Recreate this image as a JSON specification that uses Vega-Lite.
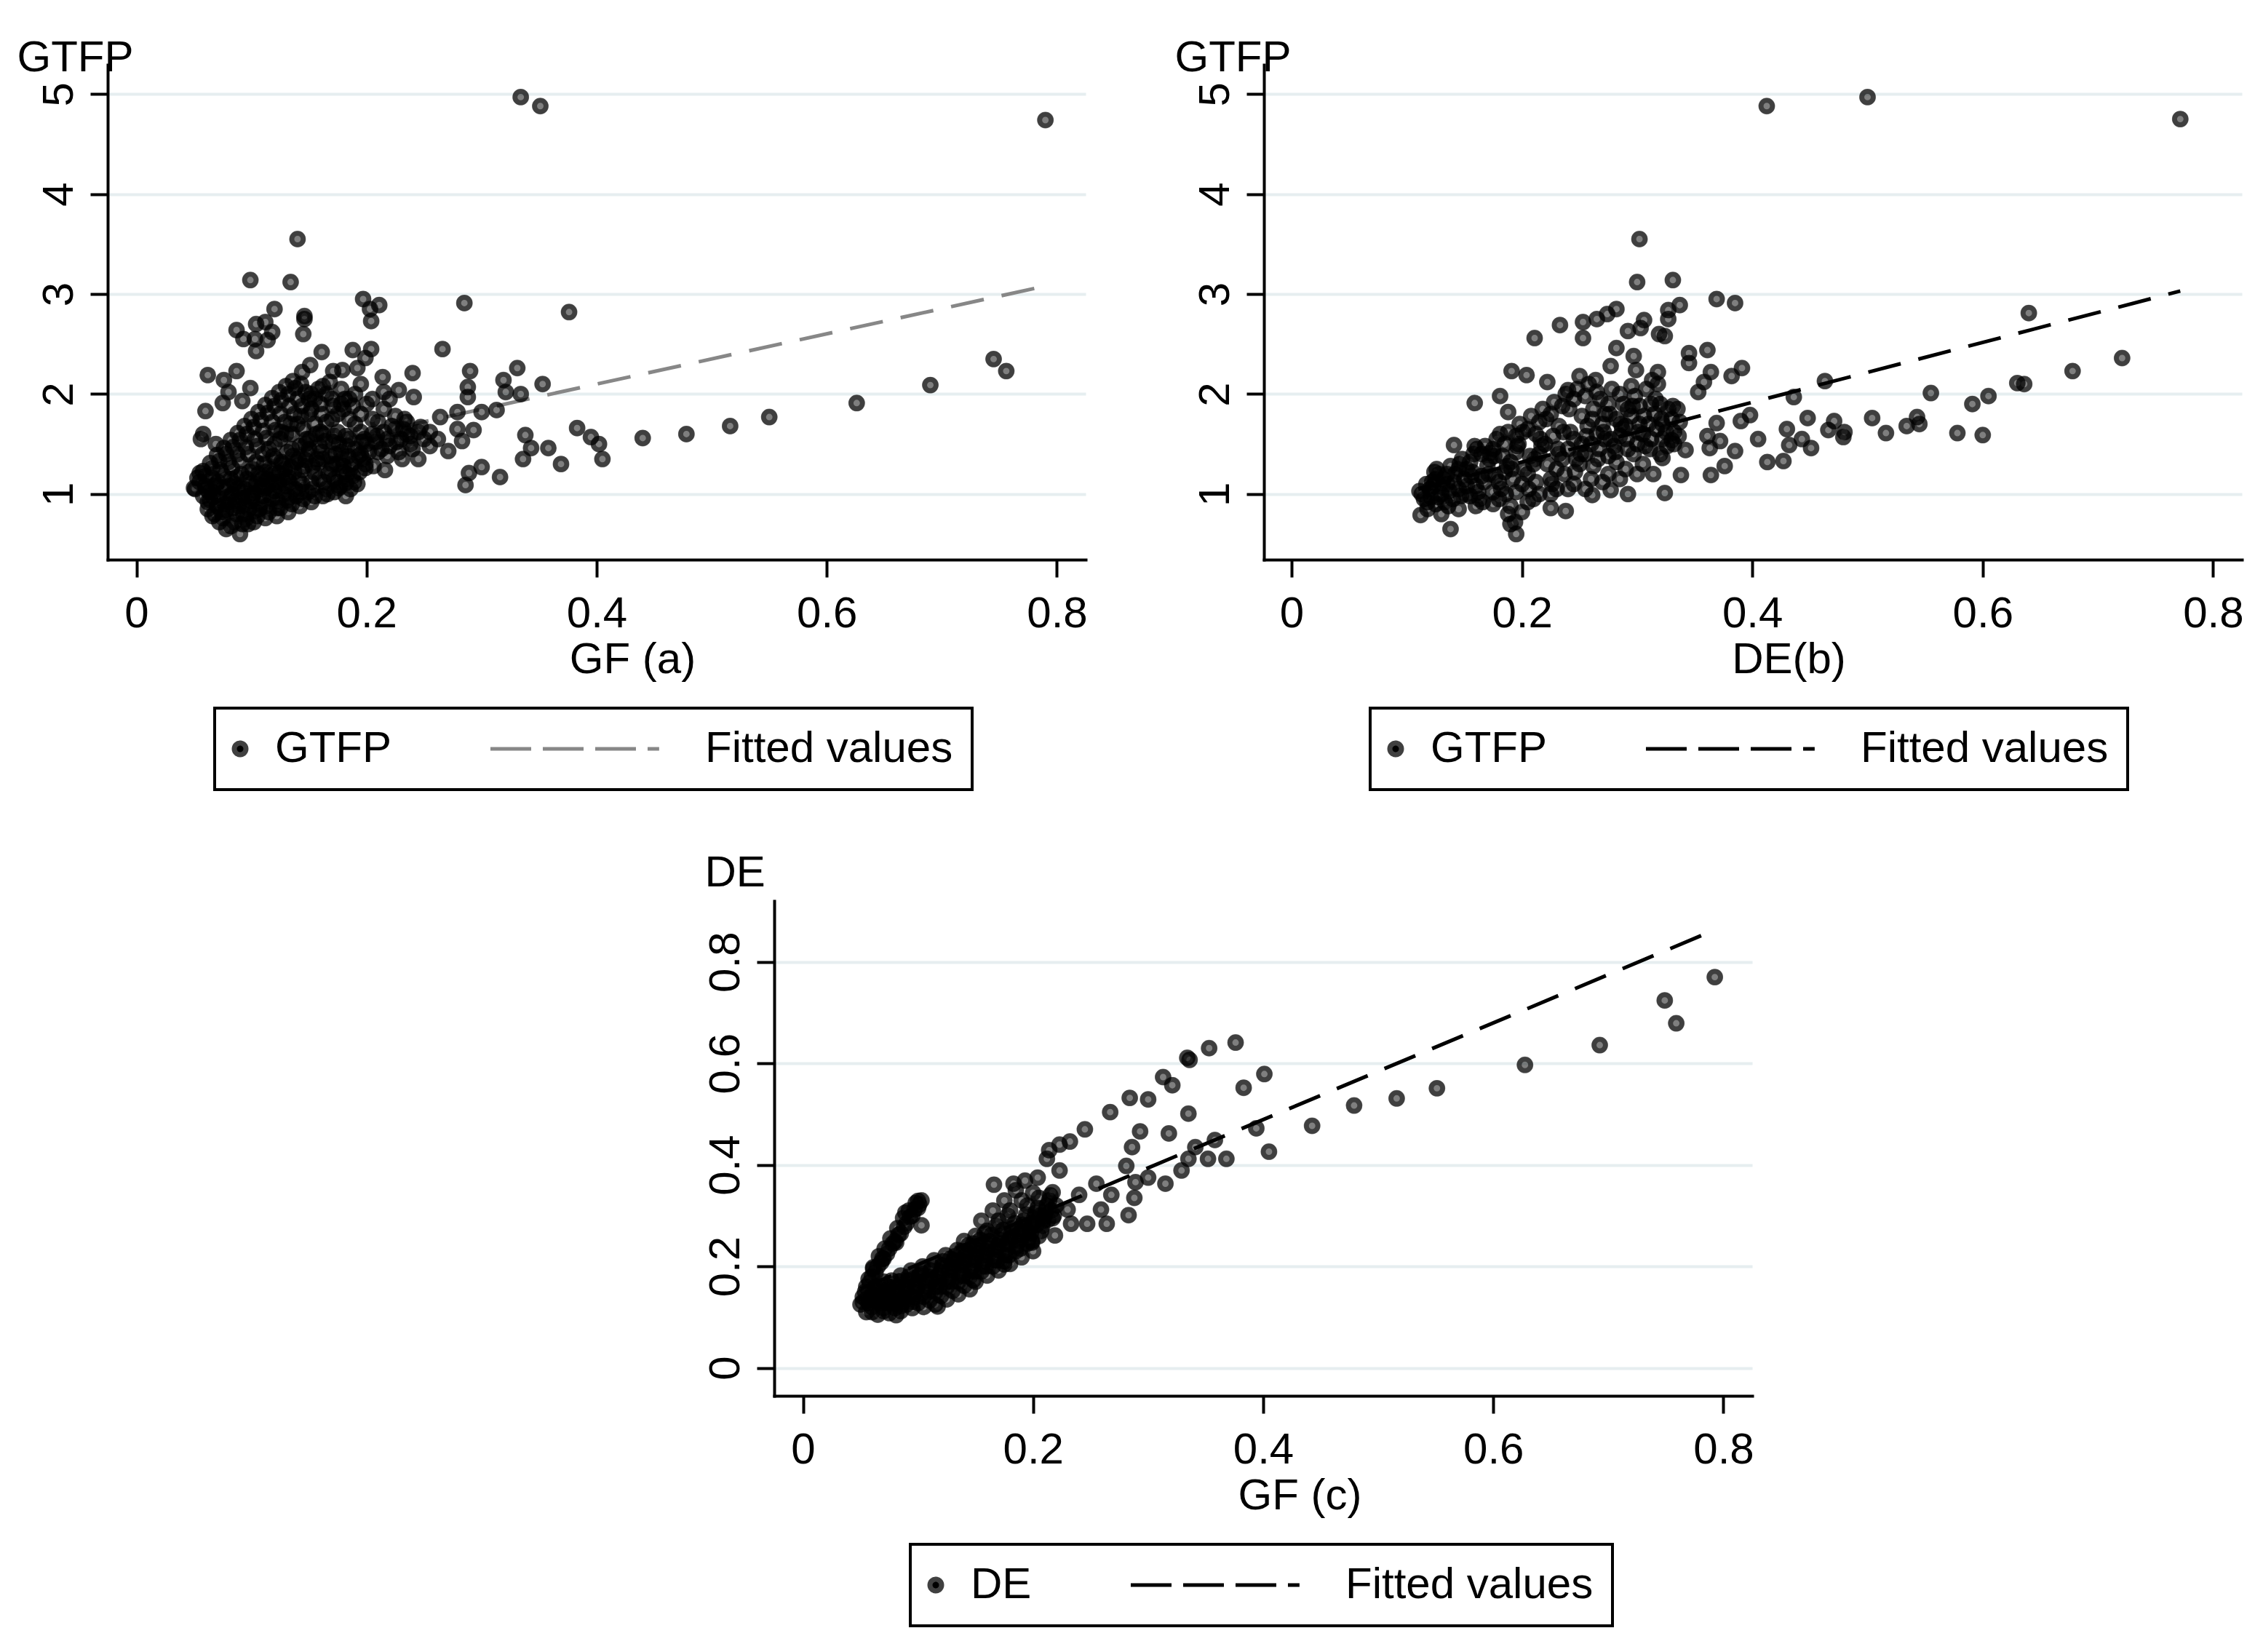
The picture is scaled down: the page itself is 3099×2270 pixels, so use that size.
{
  "$schema": "https://vega.github.io/schema/vega-lite/v6.json",
  "background": "white",
  "padding": {"left": 23, "top": 49, "right": 0, "bottom": 0},
  "config": {
    "font": "Liberation Sans",
    "view": {"stroke": null},
    "axis": {
      "domainColor": "black", "domainWidth": 4, "domainCap": "square",
      "tickColor": "black", "tickWidth": 4, "tickSize": 24,
      "labelFont": "Liberation Sans", "labelFontSize": 60, "labelColor": "black",
      "labelFlush": false, "labelOverlap": false,
      "titleFont": "Liberation Sans", "titleFontSize": 60, "titleFontWeight": "normal", "titleColor": "black",
      "gridColor": "#e6eef0", "gridWidth": 4
    },
    "axisX": {"grid": false, "labelAngle": 0, "labelPadding": 21, "titleAlign": "center", "titleBaseline": "top"},
    "axisY": {"grid": true, "labelAngle": 270, "labelAlign": "center", "labelBaseline": "alphabetic", "labelPadding": 25,
              "titleAngle": 0, "titleAlign": "left", "titleBaseline": "alphabetic"},
    "legend": {
      "title": null, "orient": "none", "direction": "horizontal",
      "padding": 26, "strokeColor": "black", "strokeWidth": 4, "fillColor": "white",
      "labelFont": "Liberation Sans", "labelFontSize": 60, "labelColor": "black", "labelLimit": 2000,
      "labelOffset": 18, "symbolOffset": -21, "columnPadding": 125,
      "symbolSize": 254,
      "symbolType": {"expr": "datum.value === 'Fitted values' ? 'M-31.0,0L-1.9,0' : 'circle'"},
      "symbolStrokeWidth": {"expr": "datum.value === 'Fitted values' ? 5 : 7"},
      "symbolDash": {"expr": "datum.value === 'Fitted values' ? [56, 16] : [1, 0]"}
    }
  },
  "datasets": {
    "a": [
      {"GF":0.334,"GTFP":4.97},{"GF":0.351,"GTFP":4.88},{"GF":0.79,"GTFP":4.74},
      {"GF":0.44,"GTFP":1.56},{"GF":0.478,"GTFP":1.60},{"GF":0.516,"GTFP":1.68},{"GF":0.55,"GTFP":1.77},
      {"GF":0.626,"GTFP":1.91},{"GF":0.69,"GTFP":2.09},{"GF":0.745,"GTFP":2.35},{"GF":0.756,"GTFP":2.23},
      {"GF":0.140,"GTFP":3.55},{"GF":0.099,"GTFP":3.14},{"GF":0.134,"GTFP":3.12},{"GF":0.120,"GTFP":2.85},
      {"GF":0.146,"GTFP":2.78},{"GF":0.146,"GTFP":2.75},{"GF":0.145,"GTFP":2.60},{"GF":0.087,"GTFP":2.64},
      {"GF":0.104,"GTFP":2.70},{"GF":0.112,"GTFP":2.72},{"GF":0.118,"GTFP":2.62},{"GF":0.093,"GTFP":2.55},
      {"GF":0.103,"GTFP":2.55},{"GF":0.114,"GTFP":2.54},{"GF":0.104,"GTFP":2.43},{"GF":0.197,"GTFP":2.95},
      {"GF":0.211,"GTFP":2.89},{"GF":0.203,"GTFP":2.85},{"GF":0.204,"GTFP":2.73},{"GF":0.285,"GTFP":2.91},
      {"GF":0.376,"GTFP":2.82},{"GF":0.161,"GTFP":2.42},{"GF":0.188,"GTFP":2.44},{"GF":0.204,"GTFP":2.45},
      {"GF":0.199,"GTFP":2.36},{"GF":0.266,"GTFP":2.45},{"GF":0.062,"GTFP":2.19},{"GF":0.076,"GTFP":2.14},
      {"GF":0.087,"GTFP":2.23},{"GF":0.099,"GTFP":2.06},{"GF":0.080,"GTFP":2.02},{"GF":0.075,"GTFP":1.91},
      {"GF":0.092,"GTFP":1.93},{"GF":0.060,"GTFP":1.83},{"GF":0.151,"GTFP":2.29},{"GF":0.144,"GTFP":2.22},
      {"GF":0.171,"GTFP":2.23},{"GF":0.179,"GTFP":2.24},{"GF":0.192,"GTFP":2.26},{"GF":0.240,"GTFP":2.21},
      {"GF":0.214,"GTFP":2.17},{"GF":0.228,"GTFP":2.04},{"GF":0.241,"GTFP":1.97},{"GF":0.290,"GTFP":2.23},
      {"GF":0.288,"GTFP":2.07},{"GF":0.288,"GTFP":1.97},{"GF":0.319,"GTFP":2.14},{"GF":0.331,"GTFP":2.26},
      {"GF":0.353,"GTFP":2.10},{"GF":0.334,"GTFP":2.00},{"GF":0.321,"GTFP":2.02},{"GF":0.264,"GTFP":1.77},
      {"GF":0.279,"GTFP":1.82},{"GF":0.300,"GTFP":1.82},{"GF":0.313,"GTFP":1.84},{"GF":0.279,"GTFP":1.65},
      {"GF":0.293,"GTFP":1.64},{"GF":0.283,"GTFP":1.53},{"GF":0.271,"GTFP":1.43},{"GF":0.255,"GTFP":1.48},
      {"GF":0.247,"GTFP":1.67},{"GF":0.233,"GTFP":1.75},{"GF":0.338,"GTFP":1.59},{"GF":0.343,"GTFP":1.46},
      {"GF":0.358,"GTFP":1.46},{"GF":0.336,"GTFP":1.35},{"GF":0.369,"GTFP":1.30},{"GF":0.383,"GTFP":1.66},
      {"GF":0.395,"GTFP":1.57},{"GF":0.402,"GTFP":1.50},{"GF":0.405,"GTFP":1.35},{"GF":0.289,"GTFP":1.21},
      {"GF":0.300,"GTFP":1.27},{"GF":0.316,"GTFP":1.17},{"GF":0.286,"GTFP":1.09},{"GF":0.231,"GTFP":1.35},
      {"GF":0.216,"GTFP":1.24},{"GF":0.199,"GTFP":1.26},{"GF":0.176,"GTFP":1.06},{"GF":0.182,"GTFP":1.11},
      {"GF":0.058,"GTFP":1.60},{"GF":0.056,"GTFP":1.55},{"GF":0.069,"GTFP":1.50},{"GF":0.051,"GTFP":1.05},
      {"GF":0.055,"GTFP":1.21},{"GF":0.078,"GTFP":0.65},{"GF":0.090,"GTFP":0.60},{"GF":0.066,"GTFP":0.78},
      {"GF":0.097,"GTFP":0.70},
      {"GF":0.050,"GTFP":1.06},{"GF":0.055,"GTFP":1.12},{"GF":0.060,"GTFP":1.18},{"GF":0.066,"GTFP":1.26},
      {"GF":0.072,"GTFP":1.33},{"GF":0.078,"GTFP":1.40},{"GF":0.084,"GTFP":1.47},{"GF":0.090,"GTFP":1.54},
      {"GF":0.096,"GTFP":1.60},{"GF":0.102,"GTFP":1.67},{"GF":0.108,"GTFP":1.74},{"GF":0.114,"GTFP":1.81},
      {"GF":0.120,"GTFP":1.88},{"GF":0.126,"GTFP":1.94},{"GF":0.132,"GTFP":2.00},{"GF":0.138,"GTFP":2.06},
      {"GF":0.143,"GTFP":2.10},{"GF":0.147,"GTFP":2.02},{"GF":0.140,"GTFP":1.95},{"GF":0.133,"GTFP":1.88},
      {"GF":0.125,"GTFP":1.80},{"GF":0.118,"GTFP":1.72},{"GF":0.110,"GTFP":1.63},{"GF":0.103,"GTFP":1.55},
      {"GF":0.095,"GTFP":1.47},{"GF":0.088,"GTFP":1.40},{"GF":0.080,"GTFP":1.32},{"GF":0.073,"GTFP":1.24},
      {"GF":0.066,"GTFP":1.16},{"GF":0.060,"GTFP":1.08},
      {"GF":0.053,"GTFP":1.16},{"GF":0.058,"GTFP":1.23},{"GF":0.064,"GTFP":1.31},{"GF":0.070,"GTFP":1.39},
      {"GF":0.076,"GTFP":1.46},{"GF":0.082,"GTFP":1.54},{"GF":0.088,"GTFP":1.61},{"GF":0.094,"GTFP":1.68},
      {"GF":0.100,"GTFP":1.75},{"GF":0.106,"GTFP":1.82},{"GF":0.112,"GTFP":1.89},{"GF":0.118,"GTFP":1.96},
      {"GF":0.124,"GTFP":2.02},{"GF":0.130,"GTFP":2.08},{"GF":0.136,"GTFP":2.13},
      {"GF":0.063,"GTFP":1.02},{"GF":0.069,"GTFP":1.10},{"GF":0.076,"GTFP":1.18},{"GF":0.083,"GTFP":1.26},
      {"GF":0.090,"GTFP":1.33},{"GF":0.097,"GTFP":1.40},{"GF":0.105,"GTFP":1.48},{"GF":0.113,"GTFP":1.56},
      {"GF":0.121,"GTFP":1.64},{"GF":0.129,"GTFP":1.72},{"GF":0.137,"GTFP":1.80},{"GF":0.144,"GTFP":1.88},
      {"GF":0.150,"GTFP":1.95},
      {"GF":0.058,"GTFP":0.98},{"GF":0.062,"GTFP":0.92},{"GF":0.066,"GTFP":1.02},{"GF":0.070,"GTFP":0.88},
      {"GF":0.072,"GTFP":0.96},{"GF":0.076,"GTFP":1.06},{"GF":0.078,"GTFP":0.84},{"GF":0.080,"GTFP":0.92},
      {"GF":0.083,"GTFP":1.00},{"GF":0.085,"GTFP":1.10},{"GF":0.087,"GTFP":0.80},{"GF":0.089,"GTFP":0.88},
      {"GF":0.092,"GTFP":0.96},{"GF":0.094,"GTFP":1.05},{"GF":0.096,"GTFP":1.15},{"GF":0.098,"GTFP":0.85},
      {"GF":0.100,"GTFP":0.93},{"GF":0.102,"GTFP":1.01},{"GF":0.104,"GTFP":1.10},{"GF":0.106,"GTFP":1.20},
      {"GF":0.108,"GTFP":0.90},{"GF":0.110,"GTFP":0.98},{"GF":0.112,"GTFP":1.06},{"GF":0.114,"GTFP":1.15},
      {"GF":0.116,"GTFP":1.25},{"GF":0.118,"GTFP":0.95},{"GF":0.120,"GTFP":1.03},{"GF":0.122,"GTFP":1.12},
      {"GF":0.124,"GTFP":1.21},{"GF":0.126,"GTFP":1.32},{"GF":0.128,"GTFP":1.00},{"GF":0.130,"GTFP":1.08},
      {"GF":0.132,"GTFP":1.17},{"GF":0.134,"GTFP":1.27},{"GF":0.136,"GTFP":1.38},{"GF":0.138,"GTFP":1.05},
      {"GF":0.141,"GTFP":1.14},{"GF":0.144,"GTFP":1.24},{"GF":0.147,"GTFP":1.34},{"GF":0.150,"GTFP":1.45},
      {"GF":0.152,"GTFP":1.12},{"GF":0.155,"GTFP":1.21},{"GF":0.158,"GTFP":1.31},{"GF":0.161,"GTFP":1.42},
      {"GF":0.164,"GTFP":1.53},{"GF":0.167,"GTFP":1.20},{"GF":0.170,"GTFP":1.30},{"GF":0.173,"GTFP":1.40},
      {"GF":0.176,"GTFP":1.50},{"GF":0.180,"GTFP":1.28},{"GF":0.184,"GTFP":1.38},{"GF":0.188,"GTFP":1.18},
      {"GF":0.192,"GTFP":1.10},{"GF":0.175,"GTFP":1.12},{"GF":0.165,"GTFP":1.05},{"GF":0.155,"GTFP":0.98},
      {"GF":0.145,"GTFP":0.95},{"GF":0.135,"GTFP":0.90},{"GF":0.125,"GTFP":0.86},{"GF":0.115,"GTFP":0.82},
      {"GF":0.105,"GTFP":0.78},{"GF":0.095,"GTFP":0.75},{"GF":0.085,"GTFP":0.72},{"GF":0.075,"GTFP":0.76},
      {"GF":0.068,"GTFP":0.80},{"GF":0.062,"GTFP":0.85},
      {"GF":0.061,"GTFP":1.05},{"GF":0.067,"GTFP":0.97},{"GF":0.071,"GTFP":1.12},{"GF":0.074,"GTFP":0.82},
      {"GF":0.079,"GTFP":0.97},{"GF":0.082,"GTFP":1.15},{"GF":0.086,"GTFP":0.93},{"GF":0.088,"GTFP":1.05},
      {"GF":0.091,"GTFP":1.20},{"GF":0.093,"GTFP":0.80},{"GF":0.097,"GTFP":0.98},{"GF":0.099,"GTFP":1.10},
      {"GF":0.101,"GTFP":1.25},{"GF":0.103,"GTFP":0.83},{"GF":0.107,"GTFP":1.05},{"GF":0.109,"GTFP":1.15},
      {"GF":0.111,"GTFP":1.30},{"GF":0.113,"GTFP":0.88},{"GF":0.117,"GTFP":1.10},{"GF":0.119,"GTFP":1.20},
      {"GF":0.121,"GTFP":1.35},{"GF":0.123,"GTFP":0.93},{"GF":0.127,"GTFP":1.15},{"GF":0.129,"GTFP":1.25},
      {"GF":0.131,"GTFP":1.42},{"GF":0.133,"GTFP":0.97},{"GF":0.137,"GTFP":1.22},{"GF":0.139,"GTFP":1.32},
      {"GF":0.142,"GTFP":1.48},{"GF":0.143,"GTFP":1.02},{"GF":0.146,"GTFP":1.28},{"GF":0.149,"GTFP":1.40},
      {"GF":0.151,"GTFP":1.55},{"GF":0.153,"GTFP":1.05},{"GF":0.157,"GTFP":1.35},{"GF":0.159,"GTFP":1.48},
      {"GF":0.162,"GTFP":1.60},{"GF":0.163,"GTFP":1.12},{"GF":0.168,"GTFP":1.38},{"GF":0.171,"GTFP":1.52},
      {"GF":0.174,"GTFP":1.30},{"GF":0.178,"GTFP":1.42},{"GF":0.182,"GTFP":1.58},{"GF":0.183,"GTFP":1.20},
      {"GF":0.187,"GTFP":1.30},{"GF":0.190,"GTFP":1.45},{"GF":0.194,"GTFP":1.22},{"GF":0.197,"GTFP":1.35},
      {"GF":0.092,"GTFP":0.70},{"GF":0.102,"GTFP":0.72},{"GF":0.112,"GTFP":0.76},{"GF":0.122,"GTFP":0.78},
      {"GF":0.082,"GTFP":0.68},{"GF":0.072,"GTFP":0.72},{"GF":0.132,"GTFP":0.82},{"GF":0.142,"GTFP":0.88},
      {"GF":0.152,"GTFP":0.92},{"GF":0.162,"GTFP":0.98},{"GF":0.172,"GTFP":1.02},{"GF":0.182,"GTFP":0.98},
      {"GF":0.110,"GTFP":1.40},{"GF":0.115,"GTFP":1.45},{"GF":0.120,"GTFP":1.50},{"GF":0.125,"GTFP":1.55},
      {"GF":0.135,"GTFP":1.60},{"GF":0.145,"GTFP":1.65},{"GF":0.155,"GTFP":1.70},{"GF":0.165,"GTFP":1.72},
      {"GF":0.064,"GTFP":0.94},{"GF":0.069,"GTFP":1.08},{"GF":0.077,"GTFP":0.90},{"GF":0.081,"GTFP":1.08},
      {"GF":0.084,"GTFP":0.86},{"GF":0.087,"GTFP":1.17},{"GF":0.091,"GTFP":1.02},{"GF":0.094,"GTFP":0.89},
      {"GF":0.098,"GTFP":1.22},{"GF":0.101,"GTFP":0.97},{"GF":0.104,"GTFP":1.32},{"GF":0.107,"GTFP":0.85},
      {"GF":0.109,"GTFP":1.08},{"GF":0.112,"GTFP":1.22},{"GF":0.116,"GTFP":0.99},{"GF":0.119,"GTFP":1.38},
      {"GF":0.122,"GTFP":0.86},{"GF":0.124,"GTFP":1.08},{"GF":0.127,"GTFP":1.30},{"GF":0.131,"GTFP":0.94},
      {"GF":0.133,"GTFP":1.12},{"GF":0.135,"GTFP":1.45},{"GF":0.139,"GTFP":0.98},{"GF":0.141,"GTFP":1.35},
      {"GF":0.144,"GTFP":1.10},{"GF":0.147,"GTFP":1.50},{"GF":0.149,"GTFP":1.02},{"GF":0.153,"GTFP":1.28},
      {"GF":0.156,"GTFP":1.60},{"GF":0.159,"GTFP":1.15},{"GF":0.162,"GTFP":1.35},{"GF":0.166,"GTFP":1.00},
      {"GF":0.169,"GTFP":1.25},{"GF":0.172,"GTFP":1.58},{"GF":0.177,"GTFP":1.08},{"GF":0.179,"GTFP":1.35},
      {"GF":0.183,"GTFP":1.48},{"GF":0.186,"GTFP":1.25},{"GF":0.189,"GTFP":1.12},{"GF":0.193,"GTFP":1.38},
      {"GF":0.196,"GTFP":1.52},{"GF":0.199,"GTFP":1.30},{"GF":0.202,"GTFP":1.42},{"GF":0.206,"GTFP":1.28},
      {"GF":0.209,"GTFP":1.58},{"GF":0.213,"GTFP":1.45},{"GF":0.218,"GTFP":1.55},{"GF":0.222,"GTFP":1.68},
      {"GF":0.226,"GTFP":1.52},{"GF":0.232,"GTFP":1.65},{"GF":0.238,"GTFP":1.58},{"GF":0.126,"GTFP":1.62},
      {"GF":0.134,"GTFP":1.70},{"GF":0.143,"GTFP":1.78},{"GF":0.152,"GTFP":1.85},{"GF":0.161,"GTFP":1.80},
      {"GF":0.171,"GTFP":1.88},{"GF":0.181,"GTFP":1.95},{"GF":0.152,"GTFP":2.00},{"GF":0.162,"GTFP":2.08},
      {"GF":0.130,"GTFP":1.60},{"GF":0.140,"GTFP":1.70},{"GF":0.150,"GTFP":1.80},{"GF":0.160,"GTFP":1.90},
      {"GF":0.165,"GTFP":2.00},{"GF":0.155,"GTFP":1.95},{"GF":0.170,"GTFP":1.75},{"GF":0.180,"GTFP":1.85},
      {"GF":0.185,"GTFP":1.95},{"GF":0.175,"GTFP":1.62},{"GF":0.190,"GTFP":1.70},{"GF":0.195,"GTFP":1.80},
      {"GF":0.200,"GTFP":1.90},{"GF":0.205,"GTFP":1.60},{"GF":0.210,"GTFP":1.72},{"GF":0.215,"GTFP":1.85},
      {"GF":0.220,"GTFP":1.95},{"GF":0.225,"GTFP":1.65},{"GF":0.230,"GTFP":1.55},{"GF":0.200,"GTFP":1.50},
      {"GF":0.210,"GTFP":1.42},{"GF":0.220,"GTFP":1.48},{"GF":0.235,"GTFP":1.60},{"GF":0.240,"GTFP":1.45},
      {"GF":0.195,"GTFP":1.40},{"GF":0.185,"GTFP":1.55},{"GF":0.170,"GTFP":1.95},{"GF":0.160,"GTFP":1.62},
      {"GF":0.148,"GTFP":1.55},{"GF":0.158,"GTFP":2.05},{"GF":0.168,"GTFP":2.12},{"GF":0.178,"GTFP":2.05},
      {"GF":0.190,"GTFP":2.00},{"GF":0.245,"GTFP":1.35},{"GF":0.250,"GTFP":1.55},{"GF":0.172,"GTFP":1.15},
      {"GF":0.180,"GTFP":1.22},{"GF":0.186,"GTFP":1.05},
      {"GF":0.175,"GTFP":1.80},{"GF":0.185,"GTFP":1.75},{"GF":0.195,"GTFP":1.62},{"GF":0.205,"GTFP":1.75},
      {"GF":0.215,"GTFP":1.62},{"GF":0.225,"GTFP":1.78},{"GF":0.235,"GTFP":1.72},{"GF":0.205,"GTFP":1.95},
      {"GF":0.215,"GTFP":2.02},{"GF":0.195,"GTFP":2.10},{"GF":0.178,"GTFP":1.90},{"GF":0.188,"GTFP":1.88},
      {"GF":0.198,"GTFP":1.55},{"GF":0.208,"GTFP":1.52},{"GF":0.228,"GTFP":1.42},{"GF":0.238,"GTFP":1.50},
      {"GF":0.218,"GTFP":1.38},{"GF":0.245,"GTFP":1.62},{"GF":0.255,"GTFP":1.62},{"GF":0.262,"GTFP":1.55}
    ],
    "afit": [{"GF":0.05,"fit":1.22},{"GF":0.79,"fit":3.08}],
    "b": [
      {"DE":0.4125,"GTFP":4.88},{"DE":0.50,"GTFP":4.97},{"DE":0.7715,"GTFP":4.75},
      {"DE":0.64,"GTFP":2.81},{"DE":0.721,"GTFP":2.36},{"DE":0.678,"GTFP":2.23},{"DE":0.63,"GTFP":2.11},
      {"DE":0.636,"GTFP":2.10},{"DE":0.605,"GTFP":1.98},{"DE":0.591,"GTFP":1.90},{"DE":0.555,"GTFP":2.01},
      {"DE":0.578,"GTFP":1.61},{"DE":0.60,"GTFP":1.59},{"DE":0.543,"GTFP":1.77},{"DE":0.534,"GTFP":1.68},
      {"DE":0.516,"GTFP":1.61},{"DE":0.504,"GTFP":1.76},{"DE":0.48,"GTFP":1.62},{"DE":0.545,"GTFP":1.70},
      {"DE":0.302,"GTFP":3.55},{"DE":0.300,"GTFP":3.12},{"DE":0.331,"GTFP":3.14},{"DE":0.369,"GTFP":2.95},
      {"DE":0.385,"GTFP":2.91},{"DE":0.337,"GTFP":2.89},{"DE":0.327,"GTFP":2.84},{"DE":0.327,"GTFP":2.75},
      {"DE":0.306,"GTFP":2.74},{"DE":0.303,"GTFP":2.66},{"DE":0.292,"GTFP":2.63},{"DE":0.324,"GTFP":2.58},
      {"DE":0.319,"GTFP":2.60},{"DE":0.282,"GTFP":2.85},{"DE":0.274,"GTFP":2.80},{"DE":0.265,"GTFP":2.75},
      {"DE":0.253,"GTFP":2.72},{"DE":0.233,"GTFP":2.69},{"DE":0.211,"GTFP":2.56},{"DE":0.253,"GTFP":2.56},
      {"DE":0.282,"GTFP":2.46},{"DE":0.297,"GTFP":2.38},{"DE":0.277,"GTFP":2.28},{"DE":0.299,"GTFP":2.24},
      {"DE":0.345,"GTFP":2.41},{"DE":0.361,"GTFP":2.44},{"DE":0.345,"GTFP":2.31},{"DE":0.364,"GTFP":2.22},
      {"DE":0.391,"GTFP":2.26},{"DE":0.382,"GTFP":2.18},{"DE":0.191,"GTFP":2.23},{"DE":0.204,"GTFP":2.19},
      {"DE":0.222,"GTFP":2.12},{"DE":0.250,"GTFP":2.18},{"DE":0.264,"GTFP":2.14},{"DE":0.240,"GTFP":2.04},
      {"DE":0.159,"GTFP":1.91},{"DE":0.181,"GTFP":1.98},{"DE":0.188,"GTFP":1.82},{"DE":0.318,"GTFP":2.22},
      {"DE":0.313,"GTFP":2.14},{"DE":0.353,"GTFP":2.02},{"DE":0.358,"GTFP":2.12},{"DE":0.463,"GTFP":2.13},
      {"DE":0.436,"GTFP":1.97},{"DE":0.398,"GTFP":1.79},{"DE":0.390,"GTFP":1.73},{"DE":0.369,"GTFP":1.71},
      {"DE":0.448,"GTFP":1.76},{"DE":0.471,"GTFP":1.73},{"DE":0.466,"GTFP":1.64},{"DE":0.479,"GTFP":1.57},
      {"DE":0.430,"GTFP":1.65},{"DE":0.443,"GTFP":1.55},{"DE":0.432,"GTFP":1.49},{"DE":0.451,"GTFP":1.46},
      {"DE":0.405,"GTFP":1.55},{"DE":0.427,"GTFP":1.33},{"DE":0.413,"GTFP":1.32},{"DE":0.372,"GTFP":1.53},
      {"DE":0.385,"GTFP":1.43},{"DE":0.361,"GTFP":1.58},{"DE":0.363,"GTFP":1.46},{"DE":0.376,"GTFP":1.28},
      {"DE":0.364,"GTFP":1.19},{"DE":0.342,"GTFP":1.44},{"DE":0.338,"GTFP":1.19},{"DE":0.330,"GTFP":1.54},
      {"DE":0.322,"GTFP":1.36},{"DE":0.314,"GTFP":1.20},{"DE":0.324,"GTFP":1.01},{"DE":0.141,"GTFP":1.49},
      {"DE":0.159,"GTFP":1.48},{"DE":0.172,"GTFP":1.41},{"DE":0.124,"GTFP":1.22},{"DE":0.111,"GTFP":1.03},
      {"DE":0.112,"GTFP":0.79},{"DE":0.138,"GTFP":0.65},{"DE":0.195,"GTFP":0.60},{"DE":0.194,"GTFP":0.72},
      {"DE":0.225,"GTFP":0.86},{"DE":0.238,"GTFP":0.83},{"DE":0.261,"GTFP":0.99},{"DE":0.277,"GTFP":1.04},
      {"DE":0.292,"GTFP":1.00},
      {"DE":0.115,"GTFP":0.95},{"DE":0.120,"GTFP":1.05},{"DE":0.125,"GTFP":0.90},{"DE":0.130,"GTFP":1.00},
      {"DE":0.135,"GTFP":1.10},{"DE":0.140,"GTFP":0.95},{"DE":0.145,"GTFP":1.05},{"DE":0.150,"GTFP":1.15},
      {"DE":0.155,"GTFP":0.98},{"DE":0.160,"GTFP":1.08},{"DE":0.165,"GTFP":1.18},{"DE":0.170,"GTFP":1.28},
      {"DE":0.175,"GTFP":1.02},{"DE":0.180,"GTFP":1.12},{"DE":0.185,"GTFP":1.22},{"DE":0.190,"GTFP":1.32},
      {"DE":0.195,"GTFP":1.42},{"DE":0.200,"GTFP":1.10},{"DE":0.205,"GTFP":1.20},{"DE":0.210,"GTFP":1.30},
      {"DE":0.215,"GTFP":1.40},{"DE":0.220,"GTFP":1.50},{"DE":0.225,"GTFP":1.15},{"DE":0.230,"GTFP":1.25},
      {"DE":0.235,"GTFP":1.35},{"DE":0.240,"GTFP":1.45},{"DE":0.245,"GTFP":1.55},{"DE":0.250,"GTFP":1.30},
      {"DE":0.255,"GTFP":1.40},{"DE":0.260,"GTFP":1.50},{"DE":0.265,"GTFP":1.60},{"DE":0.270,"GTFP":1.70},
      {"DE":0.275,"GTFP":1.38},{"DE":0.280,"GTFP":1.48},{"DE":0.285,"GTFP":1.58},{"DE":0.290,"GTFP":1.68},
      {"DE":0.295,"GTFP":1.78},{"DE":0.300,"GTFP":1.50},{"DE":0.305,"GTFP":1.60},{"DE":0.310,"GTFP":1.70},
      {"DE":0.315,"GTFP":1.80},{"DE":0.320,"GTFP":1.90},{"DE":0.325,"GTFP":1.62},{"DE":0.330,"GTFP":1.75},
      {"DE":0.335,"GTFP":1.85},{"DE":0.128,"GTFP":1.20},{"DE":0.138,"GTFP":1.28},{"DE":0.148,"GTFP":1.35},
      {"DE":0.158,"GTFP":1.40},{"DE":0.168,"GTFP":1.48},{"DE":0.178,"GTFP":1.55},{"DE":0.188,"GTFP":1.62},
      {"DE":0.198,"GTFP":1.70},{"DE":0.208,"GTFP":1.78},{"DE":0.218,"GTFP":1.85},{"DE":0.228,"GTFP":1.92},
      {"DE":0.238,"GTFP":2.00},{"DE":0.248,"GTFP":2.05},{"DE":0.258,"GTFP":2.10},{"DE":0.268,"GTFP":1.95},
      {"DE":0.278,"GTFP":2.05},{"DE":0.288,"GTFP":1.90},{"DE":0.298,"GTFP":1.98},{"DE":0.308,"GTFP":2.05},
      {"DE":0.318,"GTFP":2.10},{"DE":0.195,"GTFP":1.02},{"DE":0.205,"GTFP":0.92},{"DE":0.215,"GTFP":1.00},
      {"DE":0.230,"GTFP":1.05},{"DE":0.245,"GTFP":1.10},{"DE":0.260,"GTFP":1.15},{"DE":0.275,"GTFP":1.20},
      {"DE":0.290,"GTFP":1.25},{"DE":0.305,"GTFP":1.30},{"DE":0.320,"GTFP":1.40},{"DE":0.118,"GTFP":0.85},
      {"DE":0.130,"GTFP":0.80},{"DE":0.145,"GTFP":0.85},{"DE":0.160,"GTFP":0.88},{"DE":0.175,"GTFP":0.90},
      {"DE":0.188,"GTFP":0.80},{"DE":0.190,"GTFP":0.70},{"DE":0.200,"GTFP":0.82},{"DE":0.122,"GTFP":1.12},
      {"DE":0.133,"GTFP":0.92},{"DE":0.152,"GTFP":1.25},{"DE":0.163,"GTFP":0.95},{"DE":0.183,"GTFP":1.38},
      {"DE":0.212,"GTFP":1.60},{"DE":0.232,"GTFP":1.68},{"DE":0.252,"GTFP":1.78},{"DE":0.262,"GTFP":1.85},
      {"DE":0.272,"GTFP":1.55},{"DE":0.282,"GTFP":1.75},{"DE":0.292,"GTFP":1.45},{"DE":0.302,"GTFP":1.88},
      {"DE":0.312,"GTFP":1.55},{"DE":0.322,"GTFP":1.70},{"DE":0.332,"GTFP":1.50},
      {"DE":0.113,"GTFP":1.00},{"DE":0.118,"GTFP":0.92},{"DE":0.123,"GTFP":1.08},{"DE":0.127,"GTFP":0.97},
      {"DE":0.132,"GTFP":1.15},{"DE":0.137,"GTFP":1.03},{"DE":0.142,"GTFP":1.20},{"DE":0.147,"GTFP":0.98},
      {"DE":0.152,"GTFP":1.08},{"DE":0.157,"GTFP":1.22},{"DE":0.162,"GTFP":1.02},{"DE":0.167,"GTFP":1.12},
      {"DE":0.172,"GTFP":1.35},{"DE":0.177,"GTFP":1.18},{"DE":0.182,"GTFP":1.05},{"DE":0.187,"GTFP":1.28},
      {"DE":0.192,"GTFP":1.15},{"DE":0.197,"GTFP":1.50},{"DE":0.202,"GTFP":1.25},{"DE":0.207,"GTFP":1.38},
      {"DE":0.212,"GTFP":1.12},{"DE":0.217,"GTFP":1.48},{"DE":0.222,"GTFP":1.30},{"DE":0.227,"GTFP":1.58},
      {"DE":0.232,"GTFP":1.40},{"DE":0.237,"GTFP":1.20},{"DE":0.242,"GTFP":1.62},{"DE":0.247,"GTFP":1.35},
      {"DE":0.252,"GTFP":1.50},{"DE":0.257,"GTFP":1.68},{"DE":0.262,"GTFP":1.28},{"DE":0.267,"GTFP":1.45},
      {"DE":0.272,"GTFP":1.80},{"DE":0.277,"GTFP":1.55},{"DE":0.282,"GTFP":1.32},{"DE":0.287,"GTFP":1.65},
      {"DE":0.292,"GTFP":1.85},{"DE":0.297,"GTFP":1.40},{"DE":0.302,"GTFP":1.70},{"DE":0.307,"GTFP":1.48},
      {"DE":0.312,"GTFP":1.90},{"DE":0.317,"GTFP":1.65},{"DE":0.322,"GTFP":1.55},{"DE":0.327,"GTFP":1.85},
      {"DE":0.332,"GTFP":1.62},{"DE":0.337,"GTFP":1.72},{"DE":0.125,"GTFP":1.15},{"DE":0.135,"GTFP":1.20},
      {"DE":0.145,"GTFP":1.25},{"DE":0.155,"GTFP":1.32},{"DE":0.165,"GTFP":1.40},{"DE":0.175,"GTFP":1.45},
      {"DE":0.185,"GTFP":1.50},{"DE":0.195,"GTFP":1.58},{"DE":0.205,"GTFP":1.65},{"DE":0.215,"GTFP":1.72},
      {"DE":0.225,"GTFP":1.80},{"DE":0.235,"GTFP":1.88},{"DE":0.245,"GTFP":1.95},{"DE":0.255,"GTFP":1.98},
      {"DE":0.265,"GTFP":2.02},{"DE":0.275,"GTFP":1.90},{"DE":0.285,"GTFP":2.00},{"DE":0.295,"GTFP":2.08},
      {"DE":0.180,"GTFP":0.95},{"DE":0.190,"GTFP":0.88},{"DE":0.210,"GTFP":0.95},{"DE":0.225,"GTFP":1.00},
      {"DE":0.240,"GTFP":1.05},{"DE":0.255,"GTFP":1.05},{"DE":0.270,"GTFP":1.12},{"DE":0.285,"GTFP":1.15},
      {"DE":0.300,"GTFP":1.20},
      {"DE":0.117,"GTFP":1.10},{"DE":0.121,"GTFP":0.97},{"DE":0.126,"GTFP":1.25},{"DE":0.131,"GTFP":1.07},
      {"DE":0.136,"GTFP":0.88},{"DE":0.141,"GTFP":1.12},{"DE":0.146,"GTFP":1.30},{"DE":0.151,"GTFP":1.00},
      {"DE":0.156,"GTFP":1.18},{"DE":0.161,"GTFP":1.45},{"DE":0.166,"GTFP":0.92},{"DE":0.171,"GTFP":1.20},
      {"DE":0.176,"GTFP":1.38},{"DE":0.181,"GTFP":1.60},{"DE":0.186,"GTFP":1.00},{"DE":0.191,"GTFP":1.25},
      {"DE":0.196,"GTFP":1.48},{"DE":0.201,"GTFP":1.62},{"DE":0.206,"GTFP":1.05},{"DE":0.211,"GTFP":1.35},
      {"DE":0.216,"GTFP":1.55},{"DE":0.221,"GTFP":1.75},{"DE":0.226,"GTFP":1.10},{"DE":0.231,"GTFP":1.45},
      {"DE":0.236,"GTFP":1.62},{"DE":0.241,"GTFP":1.85},{"DE":0.246,"GTFP":1.22},{"DE":0.251,"GTFP":1.40},
      {"DE":0.256,"GTFP":1.58},{"DE":0.261,"GTFP":1.75},{"DE":0.266,"GTFP":1.35},{"DE":0.271,"GTFP":1.62},
      {"DE":0.276,"GTFP":1.80},{"DE":0.281,"GTFP":1.42},{"DE":0.286,"GTFP":1.70},{"DE":0.291,"GTFP":1.55},
      {"DE":0.296,"GTFP":1.88},{"DE":0.301,"GTFP":1.62},{"DE":0.306,"GTFP":1.78},{"DE":0.311,"GTFP":1.45},
      {"DE":0.316,"GTFP":1.95},{"DE":0.321,"GTFP":1.75},{"DE":0.326,"GTFP":1.48},{"DE":0.331,"GTFP":1.88},
      {"DE":0.336,"GTFP":1.58}
    ],
    "bfit": [{"DE":0.11,"fit":1.05},{"DE":0.7715,"fit":3.03}],
    "c": [
      {"GF":0.4425,"DE":0.477},{"GF":0.479,"DE":0.517},{"GF":0.516,"DE":0.531},{"GF":0.551,"DE":0.551},
      {"GF":0.6275,"DE":0.597},{"GF":0.6925,"DE":0.636},{"GF":0.749,"DE":0.724},{"GF":0.759,"DE":0.679},
      {"GF":0.7925,"DE":0.770},
      {"GF":0.376,"DE":0.641},{"GF":0.353,"DE":0.630},{"GF":0.336,"DE":0.607},{"GF":0.334,"DE":0.611},
      {"GF":0.313,"DE":0.573},{"GF":0.321,"DE":0.557},{"GF":0.401,"DE":0.579},{"GF":0.383,"DE":0.552},
      {"GF":0.284,"DE":0.532},{"GF":0.300,"DE":0.529},{"GF":0.267,"DE":0.504},{"GF":0.245,"DE":0.470},
      {"GF":0.232,"DE":0.446},{"GF":0.223,"DE":0.440},{"GF":0.214,"DE":0.429},{"GF":0.335,"DE":0.501},
      {"GF":0.293,"DE":0.466},{"GF":0.318,"DE":0.462},{"GF":0.286,"DE":0.435},{"GF":0.281,"DE":0.398},
      {"GF":0.394,"DE":0.472},{"GF":0.405,"DE":0.426},{"GF":0.358,"DE":0.449},
      {"GF":0.352,"DE":0.412},{"GF":0.368,"DE":0.412},{"GF":0.341,"DE":0.435},{"GF":0.335,"DE":0.412},
      {"GF":0.329,"DE":0.389},{"GF":0.300,"DE":0.375},{"GF":0.315,"DE":0.363},{"GF":0.289,"DE":0.366},
      {"GF":0.288,"DE":0.335},{"GF":0.283,"DE":0.301},{"GF":0.264,"DE":0.284},{"GF":0.268,"DE":0.341},
      {"GF":0.255,"DE":0.363},{"GF":0.259,"DE":0.312},{"GF":0.247,"DE":0.284},{"GF":0.240,"DE":0.341},
      {"GF":0.230,"DE":0.312},{"GF":0.233,"DE":0.284},{"GF":0.217,"DE":0.295},{"GF":0.219,"DE":0.261},
      {"GF":0.199,"DE":0.247},{"GF":0.223,"DE":0.389},{"GF":0.217,"DE":0.346},{"GF":0.212,"DE":0.412},
      {"GF":0.166,"DE":0.361},{"GF":0.193,"DE":0.369},{"GF":0.183,"DE":0.363},{"GF":0.204,"DE":0.375},
      {"GF":0.100,"DE":0.329},{"GF":0.089,"DE":0.306},{"GF":0.103,"DE":0.281},{"GF":0.081,"DE":0.247},
      {"GF":0.069,"DE":0.215},{"GF":0.061,"DE":0.198},{"GF":0.175,"DE":0.204},{"GF":0.148,"DE":0.173},
      {"GF":0.117,"DE":0.121},{"GF":0.081,"DE":0.104},{"GF":0.055,"DE":0.110},{"GF":0.052,"DE":0.130},
      {"GF":0.050,"DE":0.125},{"GF":0.055,"DE":0.135},{"GF":0.060,"DE":0.120},{"GF":0.060,"DE":0.145},
      {"GF":0.065,"DE":0.130},{"GF":0.068,"DE":0.155},{"GF":0.070,"DE":0.118},{"GF":0.072,"DE":0.140},
      {"GF":0.075,"DE":0.160},{"GF":0.078,"DE":0.128},{"GF":0.080,"DE":0.150},{"GF":0.083,"DE":0.170},
      {"GF":0.085,"DE":0.122},{"GF":0.088,"DE":0.140},{"GF":0.090,"DE":0.160},{"GF":0.092,"DE":0.180},
      {"GF":0.095,"DE":0.130},{"GF":0.098,"DE":0.150},{"GF":0.100,"DE":0.170},{"GF":0.102,"DE":0.190},
      {"GF":0.105,"DE":0.140},{"GF":0.108,"DE":0.160},{"GF":0.110,"DE":0.180},{"GF":0.112,"DE":0.200},
      {"GF":0.115,"DE":0.150},{"GF":0.118,"DE":0.170},{"GF":0.120,"DE":0.190},{"GF":0.122,"DE":0.210},
      {"GF":0.125,"DE":0.160},{"GF":0.128,"DE":0.180},{"GF":0.130,"DE":0.200},{"GF":0.132,"DE":0.220},
      {"GF":0.135,"DE":0.170},{"GF":0.138,"DE":0.190},{"GF":0.140,"DE":0.210},{"GF":0.142,"DE":0.230},
      {"GF":0.145,"DE":0.180},{"GF":0.148,"DE":0.200},{"GF":0.150,"DE":0.220},{"GF":0.152,"DE":0.240},
      {"GF":0.155,"DE":0.190},{"GF":0.158,"DE":0.210},{"GF":0.160,"DE":0.230},{"GF":0.162,"DE":0.250},
      {"GF":0.165,"DE":0.200},{"GF":0.168,"DE":0.220},{"GF":0.170,"DE":0.240},{"GF":0.172,"DE":0.260},
      {"GF":0.175,"DE":0.210},{"GF":0.178,"DE":0.235},{"GF":0.180,"DE":0.255},{"GF":0.182,"DE":0.275},
      {"GF":0.185,"DE":0.230},{"GF":0.188,"DE":0.250},{"GF":0.190,"DE":0.270},{"GF":0.192,"DE":0.290},
      {"GF":0.195,"DE":0.245},{"GF":0.198,"DE":0.265},{"GF":0.200,"DE":0.285},{"GF":0.202,"DE":0.305},
      {"GF":0.205,"DE":0.260},{"GF":0.208,"DE":0.280},{"GF":0.210,"DE":0.300},{"GF":0.212,"DE":0.320},
      {"GF":0.160,"DE":0.270},{"GF":0.170,"DE":0.290},{"GF":0.180,"DE":0.310},{"GF":0.150,"DE":0.260},
      {"GF":0.140,"DE":0.250},{"GF":0.190,"DE":0.330},{"GF":0.200,"DE":0.345},{"GF":0.215,"DE":0.340},
      {"GF":0.175,"DE":0.330},{"GF":0.185,"DE":0.350},{"GF":0.165,"DE":0.310},{"GF":0.155,"DE":0.290},
      {"GF":0.055,"DE":0.160},{"GF":0.060,"DE":0.180},{"GF":0.065,"DE":0.200},{"GF":0.070,"DE":0.215},
      {"GF":0.075,"DE":0.235},{"GF":0.080,"DE":0.250},{"GF":0.085,"DE":0.265},{"GF":0.090,"DE":0.285},
      {"GF":0.095,"DE":0.300},{"GF":0.100,"DE":0.315},{"GF":0.103,"DE":0.330},{"GF":0.098,"DE":0.325},
      {"GF":0.092,"DE":0.310},{"GF":0.087,"DE":0.295},{"GF":0.082,"DE":0.275},{"GF":0.076,"DE":0.255},
      {"GF":0.071,"DE":0.235},{"GF":0.066,"DE":0.220},{"GF":0.061,"DE":0.195},{"GF":0.057,"DE":0.175},
      {"GF":0.065,"DE":0.105},{"GF":0.075,"DE":0.108},{"GF":0.085,"DE":0.112},{"GF":0.095,"DE":0.118},
      {"GF":0.105,"DE":0.120},{"GF":0.115,"DE":0.125},{"GF":0.125,"DE":0.135},{"GF":0.135,"DE":0.145},
      {"GF":0.145,"DE":0.155},
      {"GF":0.052,"DE":0.140},{"GF":0.057,"DE":0.128},{"GF":0.062,"DE":0.138},{"GF":0.063,"DE":0.160},
      {"GF":0.067,"DE":0.145},{"GF":0.070,"DE":0.170},{"GF":0.073,"DE":0.128},{"GF":0.074,"DE":0.150},
      {"GF":0.077,"DE":0.172},{"GF":0.079,"DE":0.140},{"GF":0.082,"DE":0.160},{"GF":0.085,"DE":0.182},
      {"GF":0.087,"DE":0.130},{"GF":0.089,"DE":0.152},{"GF":0.091,"DE":0.172},{"GF":0.094,"DE":0.192},
      {"GF":0.096,"DE":0.140},{"GF":0.097,"DE":0.162},{"GF":0.101,"DE":0.182},{"GF":0.104,"DE":0.200},
      {"GF":0.106,"DE":0.150},{"GF":0.107,"DE":0.172},{"GF":0.111,"DE":0.192},{"GF":0.114,"DE":0.212},
      {"GF":0.116,"DE":0.160},{"GF":0.117,"DE":0.182},{"GF":0.121,"DE":0.202},{"GF":0.124,"DE":0.222},
      {"GF":0.126,"DE":0.170},{"GF":0.127,"DE":0.192},{"GF":0.131,"DE":0.212},{"GF":0.134,"DE":0.232},
      {"GF":0.136,"DE":0.180},{"GF":0.137,"DE":0.202},{"GF":0.141,"DE":0.222},{"GF":0.144,"DE":0.242},
      {"GF":0.146,"DE":0.192},{"GF":0.147,"DE":0.212},{"GF":0.151,"DE":0.232},{"GF":0.154,"DE":0.252},
      {"GF":0.156,"DE":0.200},{"GF":0.157,"DE":0.222},{"GF":0.161,"DE":0.242},{"GF":0.164,"DE":0.262},
      {"GF":0.166,"DE":0.212},{"GF":0.167,"DE":0.232},{"GF":0.171,"DE":0.252},{"GF":0.174,"DE":0.272},
      {"GF":0.176,"DE":0.222},{"GF":0.177,"DE":0.245},{"GF":0.181,"DE":0.265},{"GF":0.184,"DE":0.285},
      {"GF":0.186,"DE":0.240},{"GF":0.187,"DE":0.262},{"GF":0.191,"DE":0.282},{"GF":0.194,"DE":0.302},
      {"GF":0.196,"DE":0.255},{"GF":0.197,"DE":0.275},{"GF":0.201,"DE":0.295},{"GF":0.204,"DE":0.315},
      {"GF":0.207,"DE":0.270},{"GF":0.209,"DE":0.290},{"GF":0.211,"DE":0.310},{"GF":0.214,"DE":0.330},
      {"GF":0.218,"DE":0.300},{"GF":0.220,"DE":0.320},{"GF":0.195,"DE":0.320},{"GF":0.205,"DE":0.335},
      {"GF":0.178,"DE":0.300},{"GF":0.168,"DE":0.280},{"GF":0.158,"DE":0.265},{"GF":0.148,"DE":0.245},
      {"GF":0.138,"DE":0.230},{"GF":0.128,"DE":0.215},{"GF":0.058,"DE":0.168},{"GF":0.063,"DE":0.188},
      {"GF":0.068,"DE":0.208},{"GF":0.073,"DE":0.225},{"GF":0.078,"DE":0.245},{"GF":0.083,"DE":0.262},
      {"GF":0.088,"DE":0.278},{"GF":0.093,"DE":0.298},{"GF":0.097,"DE":0.312},{"GF":0.101,"DE":0.322},
      {"GF":0.060,"DE":0.110},{"GF":0.070,"DE":0.112},{"GF":0.080,"DE":0.118},{"GF":0.090,"DE":0.125},
      {"GF":0.100,"DE":0.128},{"GF":0.110,"DE":0.133},{"GF":0.120,"DE":0.142},{"GF":0.130,"DE":0.152},
      {"GF":0.140,"DE":0.162},{"GF":0.150,"DE":0.170},{"GF":0.160,"DE":0.182},{"GF":0.170,"DE":0.192},
      {"GF":0.180,"DE":0.205},{"GF":0.190,"DE":0.218},{"GF":0.200,"DE":0.230},
      {"GF":0.054,"DE":0.150},{"GF":0.059,"DE":0.135},{"GF":0.064,"DE":0.150},{"GF":0.069,"DE":0.128},
      {"GF":0.072,"DE":0.162},{"GF":0.076,"DE":0.140},{"GF":0.081,"DE":0.130},{"GF":0.084,"DE":0.150},
      {"GF":0.086,"DE":0.172},{"GF":0.093,"DE":0.142},{"GF":0.096,"DE":0.175},{"GF":0.099,"DE":0.160},
      {"GF":0.103,"DE":0.185},{"GF":0.109,"DE":0.150},{"GF":0.113,"DE":0.175},{"GF":0.119,"DE":0.160},
      {"GF":0.123,"DE":0.195},{"GF":0.129,"DE":0.170},{"GF":0.133,"DE":0.205},{"GF":0.139,"DE":0.182},
      {"GF":0.143,"DE":0.215},{"GF":0.149,"DE":0.190},{"GF":0.153,"DE":0.225},{"GF":0.159,"DE":0.200},
      {"GF":0.163,"DE":0.235},{"GF":0.169,"DE":0.212},{"GF":0.173,"DE":0.245},{"GF":0.179,"DE":0.222},
      {"GF":0.183,"DE":0.258},{"GF":0.189,"DE":0.235},{"GF":0.193,"DE":0.272},{"GF":0.199,"DE":0.250},
      {"GF":0.203,"DE":0.282},{"GF":0.206,"DE":0.300},{"GF":0.213,"DE":0.292},{"GF":0.216,"DE":0.310}
    ],
    "cfit": [{"GF":0.05,"fit":0.156},{"GF":0.7925,"fit":0.863}]
  },
  "bounds": "flush",
  "spacing": 1149,
  "resolve": {"scale": {"color": "independent"}, "legend": {"color": "independent"}},
  "vconcat": [
    {
      "bounds": "flush",
      "spacing": 245,
      "resolve": {"scale": {"color": "independent"}, "legend": {"color": "independent"}},
      "hconcat": [
        {
          "width": 1344,
          "height": 680,
          "layer": [
            {
              "data": {"name": "afit"},
              "mark": {"type": "line", "color": "#878787", "strokeDash": [46, 25], "strokeWidth": 5},
              "encoding": {
                "x": {"field": "GF", "type": "quantitative", "title": "GF (a)",
                      "scale": {"domain": [-0.025, 0.825], "nice": false, "zero": false},
                      "axis": {"values": [0, 0.2, 0.4, 0.6, 0.8], "format": "~g", "titleX": 721, "titleY": 108}},
                "y": {"field": "fit", "type": "quantitative", "title": "GTFP",
                      "scale": {"domain": [0.344, 5.293], "nice": false, "zero": false},
                      "axis": {"values": [1, 2, 3, 4, 5], "format": "~g", "titleX": -125, "titleY": 8}}
              }
            },
            {
              "data": {"name": "a"},
              "mark": {"type": "point", "shape": "circle", "filled": true, "size": 491, "fillOpacity": 0.5, "opacity": 1},
              "encoding": {
                "x": {"field": "GF", "type": "quantitative", "title": "GF (a)"},
                "y": {"field": "GTFP", "type": "quantitative", "title": "GTFP"},
                "color": {
                  "datum": "GTFP", "type": "nominal",
                  "scale": {"domain": ["GTFP", "Fitted values"], "range": ["black", "#878787"]},
                  "legend": {
                    "legendX": 147, "legendY": 884,
                    "symbolStrokeColor": {"expr": "datum.value === 'Fitted values' ? '#878787' : '#404040'"}
                  }
                }
              }
            },
            {
              "data": {"name": "a"},
              "mark": {"type": "point", "shape": "circle", "filled": false, "color": "black", "size": 254, "strokeWidth": 7, "strokeOpacity": 0.5, "opacity": 1},
              "encoding": {
                "x": {"field": "GF", "type": "quantitative", "title": "GF (a)"},
                "y": {"field": "GTFP", "type": "quantitative", "title": "GTFP"}
              }
            }
          ]
        },
        {
          "width": 1344,
          "height": 680,
          "layer": [
            {
              "data": {"name": "bfit"},
              "mark": {"type": "line", "color": "black", "strokeDash": [46, 25], "strokeWidth": 5},
              "encoding": {
                "x": {"field": "DE", "type": "quantitative", "title": "DE(b)",
                      "scale": {"domain": [-0.024, 0.825], "nice": false, "zero": false},
                      "axis": {"values": [0, 0.2, 0.4, 0.6, 0.8], "format": "~g", "titleX": 721, "titleY": 108}},
                "y": {"field": "fit", "type": "quantitative", "title": "GTFP",
                      "scale": {"domain": [0.344, 5.293], "nice": false, "zero": false},
                      "axis": {"values": [1, 2, 3, 4, 5], "format": "~g", "titleX": -123, "titleY": 8}}
              }
            },
            {
              "data": {"name": "b"},
              "mark": {"type": "point", "shape": "circle", "filled": true, "size": 491, "fillOpacity": 0.5, "opacity": 1},
              "encoding": {
                "x": {"field": "DE", "type": "quantitative", "title": "DE(b)"},
                "y": {"field": "GTFP", "type": "quantitative", "title": "GTFP"},
                "color": {
                  "datum": "GTFP", "type": "nominal",
                  "scale": {"domain": ["GTFP", "Fitted values"], "range": ["black", "black"]},
                  "legend": {
                    "legendX": 146, "legendY": 884,
                    "symbolStrokeColor": {"expr": "datum.value === 'Fitted values' ? 'black' : '#404040'"}
                  }
                }
              }
            },
            {
              "data": {"name": "b"},
              "mark": {"type": "point", "shape": "circle", "filled": false, "color": "black", "size": 254, "strokeWidth": 7, "strokeOpacity": 0.5, "opacity": 1},
              "encoding": {
                "x": {"field": "DE", "type": "quantitative", "title": "DE(b)"},
                "y": {"field": "GTFP", "type": "quantitative", "title": "GTFP"}
              }
            }
          ]
        }
      ]
    },
    {
      "bounds": "flush",
      "spacing": 0,
      "resolve": {"scale": {"color": "independent"}, "legend": {"color": "independent"}},
      "hconcat": [
        {
          "width": 916,
          "height": 680,
          "data": {"values": []},
          "mark": {"type": "point", "opacity": 0}
        },
        {
          "width": 1344,
          "height": 680,
          "layer": [
            {
              "data": {"name": "cfit"},
              "mark": {"type": "line", "color": "black", "strokeDash": [46, 25], "strokeWidth": 5},
              "encoding": {
                "x": {"field": "GF", "type": "quantitative", "title": "GF (c)",
                      "scale": {"domain": [-0.025, 0.825], "nice": false, "zero": false},
                      "axis": {"values": [0, 0.2, 0.4, 0.6, 0.8], "format": "~g", "titleX": 722, "titleY": 108}},
                "y": {"field": "fit", "type": "quantitative", "title": "DE",
                      "scale": {"domain": [-0.055, 0.92], "nice": false, "zero": false},
                      "axis": {"values": [0, 0.2, 0.4, 0.6, 0.8], "format": "~g", "titleX": -96, "titleY": -21}}
              }
            },
            {
              "data": {"name": "c"},
              "mark": {"type": "point", "shape": "circle", "filled": true, "size": 491, "fillOpacity": 0.5, "opacity": 1},
              "encoding": {
                "x": {"field": "GF", "type": "quantitative", "title": "GF (c)"},
                "y": {"field": "DE", "type": "quantitative", "title": "DE"},
                "color": {
                  "datum": "DE", "type": "nominal",
                  "scale": {"domain": ["DE", "Fitted values"], "range": ["black", "black"]},
                  "legend": {
                    "legendX": 187, "legendY": 884,
                    "symbolStrokeColor": {"expr": "datum.value === 'Fitted values' ? 'black' : '#404040'"}
                  }
                }
              }
            },
            {
              "data": {"name": "c"},
              "mark": {"type": "point", "shape": "circle", "filled": false, "color": "black", "size": 254, "strokeWidth": 7, "strokeOpacity": 0.5, "opacity": 1},
              "encoding": {
                "x": {"field": "GF", "type": "quantitative", "title": "GF (c)"},
                "y": {"field": "DE", "type": "quantitative", "title": "DE"}
              }
            }
          ]
        }
      ]
    }
  ]
}
